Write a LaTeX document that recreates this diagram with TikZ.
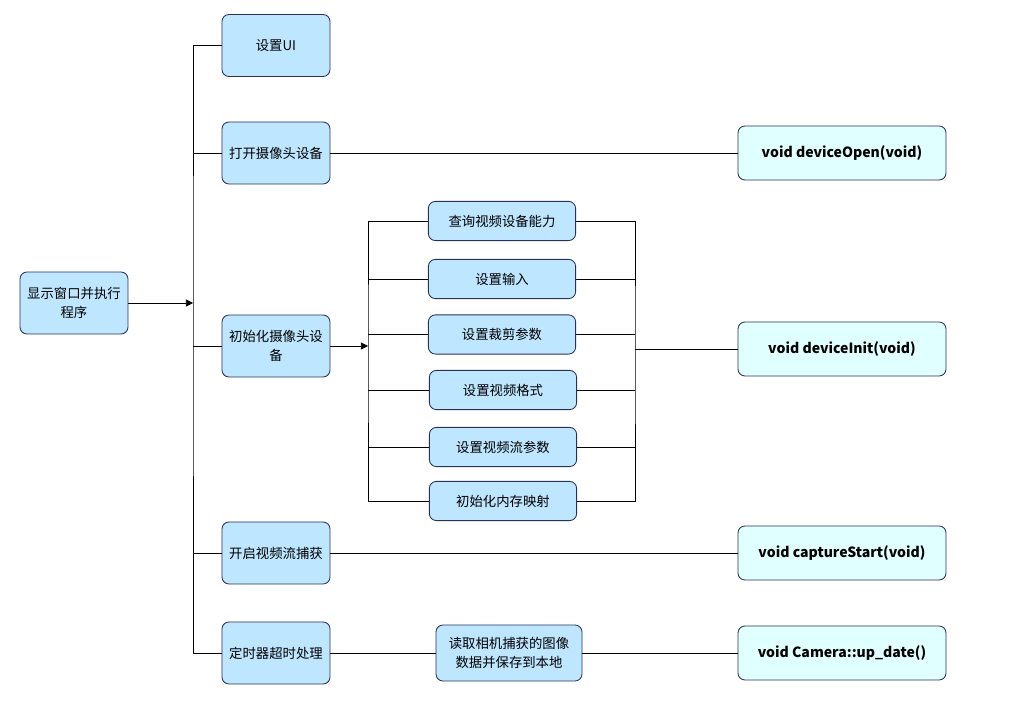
\documentclass[tikz,border=0pt]{standalone}
\usepackage{fontspec}
\setmainfont{Noto Sans CJK SC}
\usetikzlibrary{arrows.meta,positioning}
\definecolor{boxblue}{RGB}{190,230,255}
\definecolor{boxcyan}{RGB}{224,255,255}
\definecolor{boxline}{RGB}{40,50,85}
\begin{document}
\begin{tikzpicture}[
      x=0.025cm, y=-0.025cm,
      mynode/.style = {draw=boxline, line width=0.6pt, rounded corners=5pt, align=center, font=\fontsize{9.5}{13}\selectfont},
      stepbox/.style = {mynode, fill=boxblue, minimum width=2.7cm, minimum height=1.55cm, text width=2.45cm},
      subbox/.style = {mynode, fill=boxblue, minimum width=3.68cm, minimum height=0.98cm},
      funcbox/.style = {mynode, fill=boxcyan, minimum width=5.2cm, minimum height=1.35cm, font=\fontsize{10}{13}\selectfont\bfseries},
      link/.style = {draw, line width=0.5pt},
      flow/.style = {link, -{Triangle[length=5pt,width=5pt]}}
      ]
      \useasboundingbox (0,0) rectangle (1034,707);
      % left column
      \node[stepbox] (main) at (74,303) {显示窗口并执行\\程序};
      \node[stepbox] (ui) at (276,45.5) {设置UI};
      \node[stepbox] (open) at (276,153) {打开摄像头设备};
      \node[stepbox] (init) at (276,346) {初始化摄像头设\\备};
      \node[stepbox] (capture) at (276,553) {开启视频流捕获};
      \node[stepbox] (timer) at (276,653) {定时器超时处理};
      % init steps
      \node[subbox] (query) at (502,221) {查询视频设备能力};
      \node[subbox] (input) at (502,279) {设置输入};
      \node[subbox] (crop) at (502,334.5) {设置裁剪参数};
      \node[subbox] (format) at (503,390) {设置视频格式};
      \node[subbox] (param) at (503,447) {设置视频流参数};
      \node[subbox] (mmap) at (503,501) {初始化内存映射};
      \node[stepbox, minimum width=3.65cm, minimum height=1.4cm, text width=3.4cm] (read) at (509,653) {读取相机捕获的图像\\数据并保存到本地};
      % functions
      \node[funcbox] (fopen) at (842,153) {void deviceOpen(void)};
      \node[funcbox] (finit) at (842,349) {void deviceInit(void)};
      \node[funcbox] (fstart) at (842,553) {void captureStart(void)};
      \node[funcbox] (fupdate) at (842,653) {void Camera::up\_date()};

      % main trunk
      \coordinate (trunk) at (193,303);
      \path[link] (ui.west) -| (trunk) |- (timer.west);
      \path[link] (trunk |- open.west) -- (open.west);
      \path[link] (trunk |- init.west) -- (init.west);
      \path[link] (trunk |- capture.west) -- (capture.west);
      \path[flow] (main.east) -- (trunk);

      % init branch
      \coordinate (split) at (368,346);
      \coordinate (join) at (635,349);
      \path[link] (query.west) -| (split) |- (mmap.west);
      \foreach \n in {input,crop,format,param}
        \path[link] (split |- \n.west) -- (\n.west);
      \path[flow] (init.east) -- (split);
      \path[link] (query.east) -| (join) |- (mmap.east);
      \foreach \n in {input,crop,format,param}
        \path[link] (\n.east) -- (join |- \n.east);
      \path[link] (join) -- (finit.west);

      % other links
      \path[link] (open.east) -- (fopen.west);
      \path[link] (capture.east) -- (fstart.west);
      \path[link] (timer.east) -- (read.west);
      \path[link] (read.east) -- (fupdate.west);
    \end{tikzpicture}
\end{document}
